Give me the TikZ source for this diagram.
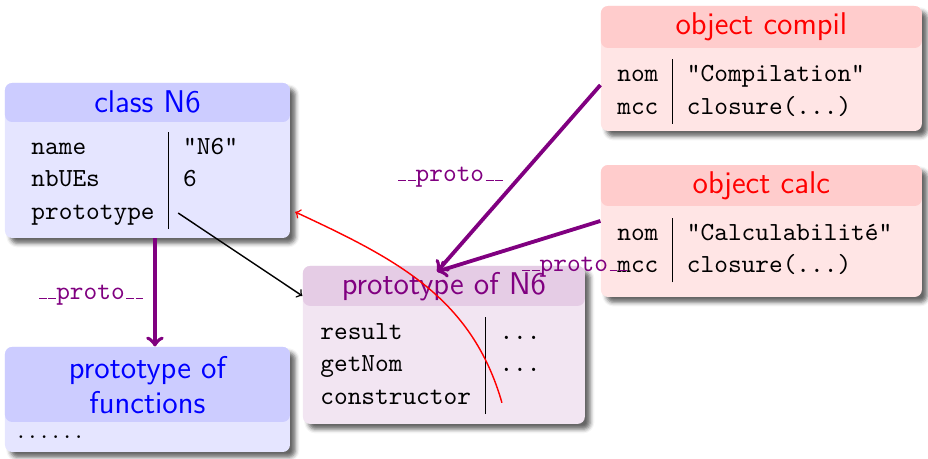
\documentclass[tikz,border=0pt]{standalone}
\usepackage{tikz}
\usetikzlibrary{shadows.blur}

\newcommand{\uscore}{\kern.06em\vbox{\hrule width.3em}}

\begin{document}
\begin{tikzpicture}[
  block/.style 2 args={
      rectangle,
      rounded corners=3pt,
      inner sep=0pt,
      fill=#1!10,
      blur shadow={shadow xshift=0.08cm,
                   shadow yshift=-0.08cm,
                   shadow blur radius=0.06cm,
                   shadow opacity=60},
      path picture={
          \fill[#1!20] (path picture bounding box.north west)
              rectangle ([yshift=-#2]path picture bounding box.north east);
      }
  },
  blocktitle/.style={
      inner sep=0pt,
      align=center,
      font=\sffamily\fontsize{13.2}{14.7}\selectfont
  },
  fields/.style={
      anchor=west,
      inner sep=0pt,
      font=\ttfamily\fontsize{10.95}{13.6}\selectfont
  },
  proto/.style={
      ->,
      violet,
      line width=1.6pt
  },
  protolabel/.style={
      violet,
      inner sep=0pt,
      font=\ttfamily\fontsize{10.95}{13.6}\selectfont
  },
  link/.style={
      ->,
      semithick
  }
]

\useasboundingbox (0,0) rectangle (13.70,6.775);

% ==================================================
% class N6
% ==================================================

\node[block={blue}{0.576cm},
      minimum width=4.207cm,
      minimum height=2.288cm]
      (classN6) at (2.177,4.406) {};

\node[blocktitle, text=blue]
      (classN6title) at (2.177,5.263)
      {class N6};

\node[fields]
      (classN6body) at (0.458,4.111)
      {\begin{tabular}{@{}l|l@{}}
       name      & "N6" \\
       nbUEs     & 6    \\
       prototype &
       \end{tabular}};

% ==================================================
% prototype of functions
% ==================================================

\node[block={blue}{1.107cm},
      minimum width=4.207cm,
      minimum height=1.550cm]
      (funcs) at (2.177,0.878) {};

\node[blocktitle, text=blue]
      (funcstitle) at (2.177,1.092)
      {prototype of\\functions};

\node[fields, font=\rmfamily\fontsize{10.95}{13.6}\selectfont]
      (funcsbody) at (0.250,0.325)
      {$\ldots\ldots$};

% ==================================================
% prototype of N6
% ==================================================

\node[block={violet}{0.590cm},
      minimum width=4.162cm,
      minimum height=2.332cm]
      (protoN6) at (6.553,1.683) {};

\node[blocktitle, text=violet]
      (protoN6title) at (6.553,2.539)
      {prototype of N6};

\node[fields]
      (protoN6body) at (4.723,1.380)
      {\begin{tabular}{@{}l|l@{}}
       result      & ... \\
       getNom      & ... \\
       constructor &
       \end{tabular}};

% ==================================================
% Objects
% ==================================================

\node[block={red}{0.620cm},
      minimum width=4.738cm,
      minimum height=1.845cm]
      (compil) at (11.240,5.764) {};

\node[blocktitle, text=red]
      (compiltitle) at (11.240,6.376)
      {object compil};

\node[fields]
      (compilbody) at (9.107,5.424)
      {\begin{tabular}{@{}l|l@{}}
       nom & "Compilation" \\
       mcc & closure(...)
       \end{tabular}};

\node[block={red}{0.605cm},
      minimum width=4.738cm,
      minimum height=1.948cm]
      (calc) at (11.240,3.365) {};

\node[blocktitle, text=red]
      (calctitle) at (11.240,4.029)
      {object calc};

\node[fields]
      (calcbody) at (9.107,3.085)
      {\begin{tabular}{@{}l|l@{}}
       nom & "Calculabilité" \\
       mcc & closure(...)
       \end{tabular}};

% ==================================================
% Links
% ==================================================

\coordinate (ptrproto) at (2.63,3.63);
\coordinate (ptrconstr) at (7.41,0.83);

\draw[link]
      (ptrproto)
      -- ([yshift=0.723cm]protoN6.west);

\draw[link, red]
      (ptrconstr)
      to[out=106, in=-25]
      ([xshift=0.07cm, yshift=-0.76cm]classN6.east);

\draw[proto]
      ([xshift=0.11cm]classN6.south)
      -- ([xshift=0.11cm]funcs.north);

\draw[proto]
      ([yshift=-0.244cm]compil.west)
      -- ([xshift=-0.1cm, yshift=-0.09cm]protoN6.north);

\draw[proto]
      ([yshift=0.148cm]calc.west)
      -- ([xshift=-0.1cm, yshift=-0.09cm]protoN6.north);

\node[protolabel] (lbl1) at (1.336,2.421) {\uscore\uscore proto\uscore\uscore};
\node[protolabel] (lbl2) at (6.642,4.163) {\uscore\uscore proto\uscore\uscore};
\node[protolabel] (lbl3) at (8.472,2.834) {\uscore\uscore proto\uscore\uscore};

\end{tikzpicture}
\end{document}
